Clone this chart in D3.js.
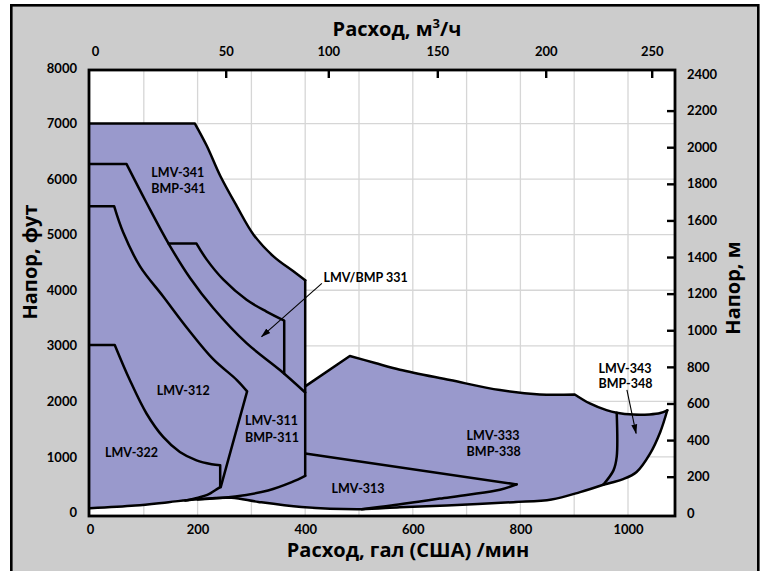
<!DOCTYPE html>
<html>
<head>
<meta charset="utf-8">
<script src="https://cdn.jsdelivr.net/npm/d3@7"></script>
<style>
	body { margin: 0; background: #fff; }
	svg { display: block; }
	text { font-family: Lato, "Open Sans", sans-serif; font-weight: 700; fill: #000; }
	.title { font-family: "Open Sans", sans-serif; }
</style>
</head>
<body>
<svg id="chart" width="763" height="571"></svg>
<script>
// axis ticks
var galTicks = [0, 200, 400, 600, 800, 1000];
var ftTicks = [0, 1000, 2000, 3000, 4000, 5000, 6000, 7000, 8000];
var m3hTicks = [0, 50, 100, 150, 200, 250];
var mTicks = [0, 200, 400, 600, 800, 1000, 1200, 1400, 1600, 1800, 2000, 2200, 2400];

// curves, [gal/min, ft]
var lmv341Top = [[0, 7000], [195, 7000], [217, 6600], [242, 6060], [273, 5510], [304, 5000], [341, 4610], [378, 4340], [400, 4180]];
var edge400 = [[400, 4180], [400, 660]];
var curve6300 = [[0, 6270], [68, 6270], [105, 5575], [146, 4840], [186, 4220], [229, 3680], [291, 3047], [353, 2564], [400, 2160]];
var curve5500 = [[0, 5510], [45, 5510], [62, 5033], [93, 4430], [136, 3888], [183, 3290], [229, 2760], [273, 2384], [292, 2180], [243, 457]];
var curve322 = [[0, 3016], [46, 3016], [74, 2384], [105, 1782], [136, 1360], [167, 1089], [198, 939], [226, 870], [242, 850], [242, 457], [232, 397], [220, 325], [201, 265], [177, 217]];
var lmv311Bottom = [[400, 660], [375, 547], [331, 397], [270, 289], [200, 235]];
var box331 = [[146, 4840], [198, 4840], [217, 4551], [248, 4190], [291, 3828], [328, 3617], [361, 3455], [361, 2500]];
var top333 = [[400, 2270], [483, 2817], [530, 2690], [576, 2570], [669, 2384], [762, 2203], [836, 2125], [901, 2125], [929, 1963], [960, 1842], [979, 1795], [1010, 1762], [1040, 1765], [1060, 1790], [1073, 1840]];
var right343 = [[1073, 1840], [1060, 1450], [1041, 1060], [1016, 730], [991, 600], [970, 540], [954, 500]];
var left343 = [[979, 1795], [979, 1000], [973, 758], [954, 500]];
var bottomEnv = [[0, 78], [84, 126], [146, 186], [195, 235], [263, 265], [313, 190], [393, 100], [505, 60], [576, 96], [663, 126], [787, 186], [858, 235], [911, 367], [954, 500]];
var lmv313Top = [[400, 1060], [793, 506]];
var lmv313Bottom = [[793, 506], [762, 410], [703, 320], [650, 250], [610, 195], [560, 125], [505, 60]];

var labels = [
	{ text: 'LMV-341', gal: 114, ft: 6044 },
	{ text: 'BMP-341', gal: 114, ft: 5745 },
	{ text: 'LMV/BMP 331', gal: 434, ft: 4154 },
	{ text: 'LMV-312', gal: 124, ft: 2115 },
	{ text: 'LMV-322', gal: 28, ft: 1004 },
	{ text: 'LMV-311', gal: 288, ft: 1575 },
	{ text: 'BMP-311', gal: 288, ft: 1274 },
	{ text: 'LMV-313', gal: 449, ft: 346 },
	{ text: 'LMV-333', gal: 700, ft: 1296 },
	{ text: 'BMP-338', gal: 700, ft: 1017 },
	{ text: 'LMV-343', gal: 945, ft: 2505 },
	{ text: 'BMP-348', gal: 945, ft: 2235 }
];
var arrows = [
	[[431, 4125], [319, 3164]],
	[[998, 2205], [1015, 1425]]
];

var svg = d3.select('#chart');
var plot = { left: 89, top: 70, right: 675, bottom: 516 };

var x = d3.scaleLinear().domain([0, 1000]).range([90, 628]);
var yFt = d3.scaleLinear().domain([0, 8000]).range([512.5, 68]);
var yM = d3.scaleLinear().domain([0, 2400]).range([513.3, 74]);
// top axis is not evenly spaced in the original
var xM3 = d3.scaleLinear().domain(m3hTicks).range([95, 225.7, 328.3, 437.3, 545.7, 651.7]);

var smooth = d3.line().curve(d3.curveCatmullRom.alpha(0.5));

// split at sharp bends so corners stay sharp, smooth the rest
function curvePath(data) {
	var pts = data.map(function(d) { return [x(d[0]), yFt(d[1])]; });
	var pieces = [], cur = [pts[0]];
	for (var i = 1; i < pts.length; i++) {
		cur.push(pts[i]);
		if (i < pts.length - 1) {
			var a1 = Math.atan2(pts[i][1] - pts[i - 1][1], pts[i][0] - pts[i - 1][0]),
				a2 = Math.atan2(pts[i + 1][1] - pts[i][1], pts[i + 1][0] - pts[i][0]),
				turn = Math.abs(a2 - a1);
			if (turn > Math.PI) turn = 2 * Math.PI - turn;
			if (turn > 0.5) { pieces.push(cur); cur = [pts[i]]; }
		}
	}
	pieces.push(cur);
	return pieces.map(function(p, k) {
		var s = smooth(p);
		return k ? 'L' + s.slice(1) : s;
	}).join('');
}

// frame
svg.append('rect')
	.attr('x', 11.3).attr('y', 5.3).attr('width', 747).attr('height', 590)
	.attr('fill', '#cccccc').attr('stroke', '#000').attr('stroke-width', 2.6);

svg.append('rect')
	.attr('x', plot.left).attr('y', plot.top)
	.attr('width', plot.right - plot.left).attr('height', plot.bottom - plot.top)
	.attr('fill', '#fff');

// grid
var grid = svg.append('g').attr('stroke', '#d6d6d6').attr('stroke-width', 1.3);
grid.selectAll('.vg').data(d3.range(100, 1100, 100)).enter().append('line')
	.attr('x1', function(d) { return x(d); }).attr('x2', function(d) { return x(d); })
	.attr('y1', plot.top).attr('y2', plot.bottom);
grid.selectAll('.hg').data(d3.range(1000, 8000, 1000)).enter().append('line')
	.attr('x1', plot.left).attr('x2', plot.right)
	.attr('y1', function(d) { return yFt(d); }).attr('y2', function(d) { return yFt(d); });

// coverage area
svg.append('path')
	.attr('d', curvePath(lmv341Top) + curvePath(top333).replace('M', 'L') +
		curvePath(right343).replace('M', 'L') + curvePath(bottomEnv.slice().reverse()).replace('M', 'L') + 'Z')
	.attr('fill', '#9999cc');

var curves = [lmv341Top, edge400, curve6300, curve5500, curve322, lmv311Bottom, box331,
	top333, right343, left343, bottomEnv, lmv313Top, lmv313Bottom];
svg.append('g').selectAll('path').data(curves).enter().append('path')
	.attr('d', curvePath)
	.attr('fill', 'none').attr('stroke', '#000').attr('stroke-width', 2.5)
	.attr('stroke-linejoin', 'round').attr('stroke-linecap', 'round');

// labels and arrows
svg.append('g').selectAll('text').data(labels).enter().append('text')
	.attr('x', function(d) { return x(d.gal); })
	.attr('y', function(d) { return yFt(d.ft); })
	.attr('font-size', 12.5)
	.text(function(d) { return d.text; });

svg.append('defs').append('marker')
	.attr('id', 'head').attr('viewBox', '0 0 10 10').attr('refX', 9).attr('refY', 5)
	.attr('markerWidth', 9).attr('markerHeight', 9).attr('orient', 'auto')
	.append('path').attr('d', 'M0,2 L10,5 L0,8 Z').attr('fill', '#000');

svg.append('g').selectAll('line').data(arrows).enter().append('line')
	.attr('x1', function(d) { return x(d[0][0]); }).attr('y1', function(d) { return yFt(d[0][1]); })
	.attr('x2', function(d) { return x(d[1][0]); }).attr('y2', function(d) { return yFt(d[1][1]); })
	.attr('stroke', '#000').attr('stroke-width', 1.1)
	.attr('marker-end', 'url(#head)');

// plot border
svg.append('rect')
	.attr('x', plot.left).attr('y', plot.top)
	.attr('width', plot.right - plot.left).attr('height', plot.bottom - plot.top)
	.attr('fill', 'none').attr('stroke', '#000').attr('stroke-width', 2.8);

// axes
function styleAxis(g) {
	g.select('.domain').remove();
	g.attr('font-family', null).attr('font-size', 13);
	g.selectAll('line').attr('stroke', '#000').attr('stroke-width', 2.4);
}
var fmt = d3.format('d');

svg.append('g')
	.attr('transform', 'translate(0,' + plot.bottom + ')')
	.call(d3.axisBottom(x).tickValues(galTicks).tickFormat(fmt).tickSize(0).tickPadding(9))
	.call(styleAxis);

svg.append('g')
	.attr('transform', 'translate(' + plot.left + ',0)')
	.call(d3.axisLeft(yFt).tickValues(ftTicks).tickFormat(fmt).tickSize(0).tickPadding(12))
	.call(styleAxis);

svg.append('g')
	.attr('transform', 'translate(' + plot.right + ',0)')
	.call(d3.axisRight(yM).tickValues(mTicks).tickFormat(fmt).tickSizeInner(-8).tickSizeOuter(0).tickPadding(12))
	.call(styleAxis)
	.selectAll('.tick line').filter(function(d) { return d === 0 || d === 2400; }).remove();

svg.append('g')
	.attr('transform', 'translate(0,' + plot.top + ')')
	.call(d3.axisTop(xM3).tickValues(m3hTicks).tickFormat(fmt).tickSizeInner(-8).tickSizeOuter(0).tickPadding(14))
	.call(styleAxis)
	.selectAll('.tick line').filter(function(d) { return d === 0; }).remove();

// titles
var topTitle = svg.append('text').attr('class', 'title')
	.attr('x', 397).attr('y', 36).attr('text-anchor', 'middle').attr('font-size', 20);
topTitle.append('tspan').text('Расход, м');
topTitle.append('tspan').attr('font-size', 13).attr('dy', -8).text('3');
topTitle.append('tspan').attr('dy', 8).text('/ч');

svg.append('text').attr('class', 'title')
	.attr('x', 408).attr('y', 557).attr('text-anchor', 'middle').attr('font-size', 20)
	.text('Расход, гал (США) /мин');

svg.append('text').attr('class', 'title')
	.attr('transform', 'translate(37,262) rotate(-90)').attr('text-anchor', 'middle').attr('font-size', 20)
	.text('Напор, фут');

svg.append('text').attr('class', 'title')
	.attr('transform', 'translate(740,288) rotate(-90)').attr('text-anchor', 'middle').attr('font-size', 20)
	.text('Напор, м');
</script>
</body>
</html>
